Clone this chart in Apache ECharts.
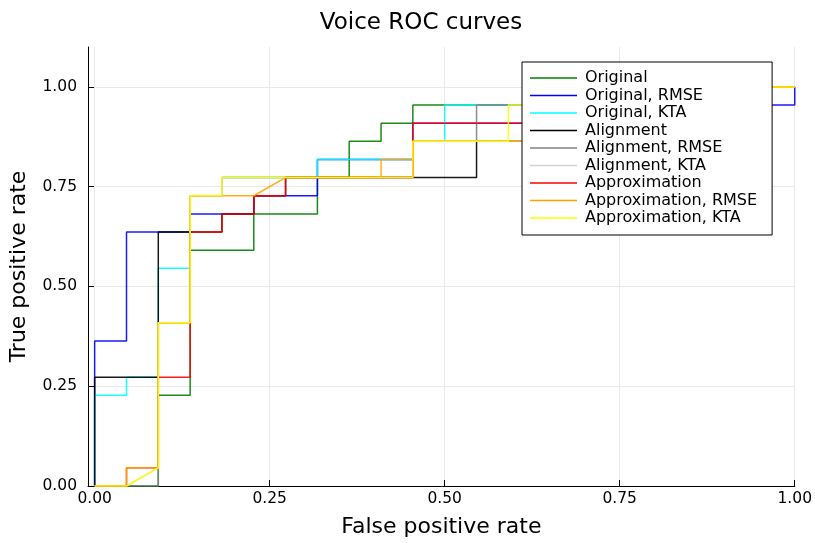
<!DOCTYPE html>
<html><head><meta charset="utf-8">
<script src="https://cdn.jsdelivr.net/npm/echarts@6/dist/echarts.min.js"></script>
<style>html,body{margin:0;padding:0;background:#fff}#c{width:815px;height:543px}</style>
</head><body><div id="c"></div>
<script>
const seriesNames = ['Original','Original, RMSE','Original, KTA','Alignment','Alignment, RMSE','Alignment, KTA','Approximation','Approximation, RMSE','Approximation, KTA'];
const seriesColors = ['#008000','#0000ff','#00ffff','#000000','#808080','#d3d3d3','#ff0000','#ffa500','#ffff00'];

const fprOriginal = [0,0.0909,0.0909,0.1364,0.1364,0.2273,0.2273,0.3182,0.3182,0.3636,0.3636,0.4091,0.4091,0.4545,0.4545,0.6364,0.6364,1];
const tprOriginal = [0,0,0.2273,0.2273,0.5909,0.5909,0.6818,0.6818,0.7727,0.7727,0.8636,0.8636,0.9091,0.9091,0.9545,0.9545,1,1];

const fprOriginalRMSE = [0,0,0.0455,0.0455,0.1364,0.1364,0.2273,0.2273,0.3182,0.3182,0.4545,0.4545,0.6818,0.6818,1,1];
const tprOriginalRMSE = [0,0.3636,0.3636,0.6364,0.6364,0.6818,0.6818,0.7273,0.7273,0.8182,0.8182,0.9091,0.9091,0.9545,0.9545,1];

const fprOriginalKTA = [0,0,0.0455,0.0455,0.0909,0.0909,0.1364,0.1364,0.1818,0.1818,0.3182,0.3182,0.4545,0.4545,0.5,0.5,0.6364,0.6364,1];
const tprOriginalKTA = [0,0.2273,0.2273,0.2727,0.2727,0.5455,0.5455,0.7273,0.7273,0.7727,0.7727,0.8182,0.8182,0.8636,0.8636,0.9545,0.9545,1,1];

const fprAlignment = [0,0,0.0909,0.0909,0.1818,0.1818,0.2273,0.2273,0.2727,0.2727,0.5455,0.5455,0.6364,0.6364,0.7273,0.7273,1];
const tprAlignment = [0,0.2727,0.2727,0.6364,0.6364,0.6818,0.6818,0.7273,0.7273,0.7727,0.7727,0.8636,0.8636,0.9545,0.9545,1,1];

const fprAlignmentRMSE = [0,0.0909,0.0909,0.1364,0.1364,0.1818,0.1818,0.4545,0.4545,0.5455,0.5455,0.6818,0.6818,1];
const tprAlignmentRMSE = [0,0,0.4091,0.4091,0.7273,0.7273,0.7727,0.7727,0.8636,0.8636,0.9545,0.9545,1,1];

const fprAlignmentKTA = [0,0.0455,0.0909,0.0909,0.1364,0.1364,0.1818,0.1818,0.4545,0.4545,0.6364,0.6364,1];
const tprAlignmentKTA = [0,0,0.0455,0.4091,0.4091,0.7273,0.7273,0.7727,0.7727,0.8636,0.8636,1,1];

const fprApprox = [0,0.0455,0.0455,0.0909,0.0909,0.1364,0.1364,0.1818,0.1818,0.2273,0.2273,0.2727,0.2727,0.4545,0.4545,0.6818,0.6818,1];
const tprApprox = [0,0,0.0455,0.0455,0.2727,0.2727,0.6364,0.6364,0.6818,0.6818,0.7273,0.7273,0.7727,0.7727,0.9091,0.9091,1,1];

const fprApproxRMSE = [0,0.0455,0.0455,0.0909,0.0909,0.1364,0.1364,0.2273,0.2727,0.4091,0.4091,0.4545,0.4545,0.6364,0.6364,0.7727,0.7727,1];
const tprApproxRMSE = [0,0,0.0455,0.0455,0.4091,0.4091,0.7273,0.7273,0.7727,0.7727,0.8182,0.8182,0.8636,0.8636,0.9545,0.9545,1,1];

const fprApproxKTA = [0,0.0455,0.0909,0.0909,0.1364,0.1364,0.1818,0.1818,0.4545,0.4545,0.5909,0.5909,0.8182,0.8182,1];
const tprApproxKTA = [0,0,0.0455,0.4091,0.4091,0.7273,0.7273,0.7727,0.7727,0.8636,0.8636,0.9545,0.9545,1,1];

const xTicks = [0,0.25,0.5,0.75,1];
const yTicks = [0,0.25,0.5,0.75,1];

const curves = [
  [fprOriginal,tprOriginal],[fprOriginalRMSE,tprOriginalRMSE],[fprOriginalKTA,tprOriginalKTA],
  [fprAlignment,tprAlignment],[fprAlignmentRMSE,tprAlignmentRMSE],[fprAlignmentKTA,tprAlignmentKTA],
  [fprApprox,tprApprox],[fprApproxRMSE,tprApproxRMSE],[fprApproxKTA,tprApproxKTA]
];

const FONT = 'DejaVu Sans';
const chart = echarts.init(document.getElementById('c'), null, {renderer:'canvas'});
const axisCommon = {
  axisLine:{show:true,onZero:false,lineStyle:{color:'#000',width:1}},
  splitLine:{show:true,lineStyle:{color:'#e9e9e9',width:1}},
  nameLocation:'middle',
  nameTextStyle:{fontSize:22,color:'#000',fontFamily:FONT}
};
chart.setOption({
  animation:false,
  backgroundColor:'#fff',
  title:{text:'Voice ROC curves',left:416,top:7,textAlign:'center',
    textStyle:{fontSize:23,fontWeight:'normal',color:'#000',fontFamily:FONT}},
  grid:{left:86,right:19,top:47,bottom:57,containLabel:false},
  xAxis:Object.assign({}, axisCommon, {
    type:'value',min:-0.0095,max:1,
    name:'False positive rate',nameGap:30,
    axisTick:{show:true,inside:true,length:6,customValues:xTicks,lineStyle:{color:'#000'}},
    axisLabel:{customValues:xTicks,formatter:v=>v.toFixed(2),fontSize:15.5,color:'#000',fontFamily:FONT,margin:5}
  }),
  yAxis:Object.assign({}, axisCommon, {
    type:'value',min:0,max:1.1,
    name:'True positive rate',nameGap:58,nameRotate:90,
    axisTick:{show:true,inside:true,length:6,customValues:yTicks,lineStyle:{color:'#000'}},
    axisLabel:{customValues:yTicks,formatter:v=>v.toFixed(2),fontSize:15.5,color:'#000',fontFamily:FONT,margin:11}
  }),
  legend:{
    orient:'vertical',left:522,top:62,padding:[8,15,9,8],z:20,
    backgroundColor:'#fff',borderColor:'#000',borderWidth:1,borderRadius:0,
    icon:'rect',itemWidth:47,itemHeight:1.5,itemGap:1.5,
    textStyle:{fontSize:16,color:'#000',fontFamily:FONT,lineHeight:16,padding:[0,0,0,3]},
    data:seriesNames
  },
  series:curves.map((c,i)=>({
    name:seriesNames[i],type:'line',symbol:'none',silent:true,
    data:c[0].map((x,k)=>[x,c[1][k]]),
    lineStyle:{width:1.5,color:seriesColors[i],opacity:0.9},
    itemStyle:{color:seriesColors[i]},
    emphasis:{disabled:true}
  }))
});
</script></body></html>
